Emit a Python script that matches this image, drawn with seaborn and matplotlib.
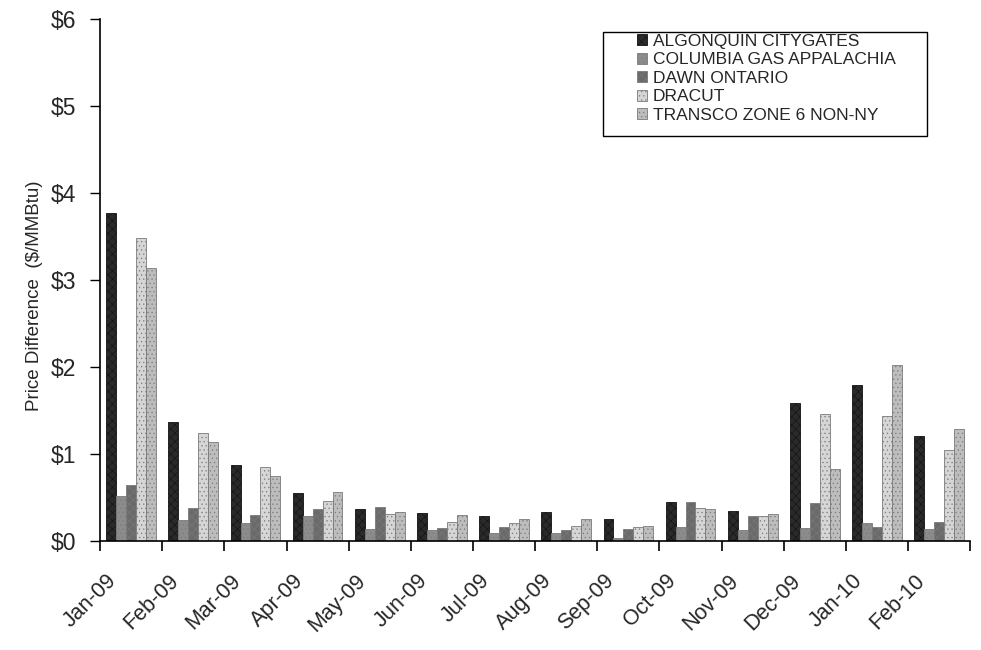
import pandas as pd
import seaborn as sns
import matplotlib.pyplot as plt
from matplotlib.patches import Rectangle
from matplotlib.transforms import ScaledTranslation
from matplotlib.ticker import FuncFormatter, FixedLocator

# data ($/MMBtu)
MONTHS = ["Jan-09", "Feb-09", "Mar-09", "Apr-09", "May-09", "Jun-09", "Jul-09",
          "Aug-09", "Sep-09", "Oct-09", "Nov-09", "Dec-09", "Jan-10", "Feb-10"]

ALGONQUIN = [3.77, 1.36, 0.87, 0.55, 0.37, 0.32, 0.29, 0.33, 0.25, 0.45, 0.34, 1.58, 1.79, 1.21]
COLUMBIA = [0.51, 0.24, 0.20, 0.28, 0.14, 0.12, 0.09, 0.09, 0.03, 0.16, 0.12, 0.15, 0.21, 0.14]
DAWN = [0.64, 0.38, 0.30, 0.36, 0.39, 0.15, 0.16, 0.12, 0.14, 0.45, 0.29, 0.43, 0.16, 0.22]
DRACUT = [3.48, 1.24, 0.85, 0.46, 0.31, 0.22, 0.21, 0.17, 0.16, 0.38, 0.29, 1.46, 1.44, 1.04]
TRANSCO = [3.14, 1.13, 0.74, 0.56, 0.33, 0.30, 0.25, 0.25, 0.17, 0.37, 0.31, 0.83, 2.02, 1.28]

SERIES = ["ALGONQUIN CITYGATES", "COLUMBIA GAS APPALACHIA", "DAWN ONTARIO",
          "DRACUT", "TRANSCO ZONE 6 NON-NY"]
COLORS = ["#2a2a2a", "#8c8c8c", "#6a6a6a", "#d6d6d6", "#bdbdbd"]
HATCHES = ["xxxx", "....", "xxxx", "....", "...."]


def build_frame():
    rows = []
    for name, vals in zip(SERIES, [ALGONQUIN, COLUMBIA, DAWN, DRACUT, TRANSCO]):
        for m, v in zip(MONTHS, vals):
            rows.append({"Month": m, "Hub": name, "Value": v})
    return pd.DataFrame(rows)


def plot_chart():
    sns.set_style("white")
    plt.rcParams["font.family"] = ["Liberation Sans", "DejaVu Sans"]
    plt.rcParams["hatch.linewidth"] = 0.4

    df = build_frame()
    fig = plt.figure(figsize=(9.81, 6.5), dpi=100)
    ax = fig.add_axes([0.102, 0.168, 0.887, 0.803])

    sns.barplot(data=df, x="Month", y="Value", hue="Hub", order=MONTHS,
                hue_order=SERIES, palette=COLORS, width=0.8, ax=ax,
                errorbar=None, saturation=1, legend=False)

    # texture the bars a bit like the scanned original
    for cont, hatch, col in zip(ax.containers, HATCHES, COLORS):
        for bar in cont:
            bar.set_hatch(hatch)
            bar.set_edgecolor("#111111" if col == "#2a2a2a" else "#7a7a7a")
            bar.set_linewidth(0.6)

    ax.set_ylim(0, 6)
    ax.set_xlim(-0.5, len(MONTHS) - 0.5)
    ax.set_yticks(range(0, 7))
    ax.yaxis.set_major_formatter(FuncFormatter(lambda v, _: f"${v:.0f}"))
    ax.set_ylabel("Price Difference  ($/MMBtu)", fontsize=13.5)
    ax.yaxis.set_label_coords(-0.0655, 0.47)
    ax.set_xlabel("")

    # tick marks on the group boundaries, labels in the middle
    ax.xaxis.set_minor_locator(FixedLocator([i - 0.5 for i in range(len(MONTHS) + 1)]))
    ax.tick_params(axis="x", which="major", bottom=False, length=0, pad=4)
    ax.tick_params(axis="x", which="minor", bottom=True, length=7, width=1.2,
                   direction="out", color="black")
    ax.tick_params(axis="y", left=True, length=7, width=1, direction="out",
                   color="black", labelsize=16.5, pad=10)
    shift = ScaledTranslation(-25 / 100, -24 / 100, fig.dpi_scale_trans)
    for lab in ax.get_xticklabels():
        lab.set_rotation(45)
        lab.set_ha("right")
        lab.set_rotation_mode("anchor")
        lab.set_fontsize(15.5)
        lab.set_transform(lab.get_transform() + shift)

    sns.despine(ax=ax)
    for sp in ["left", "bottom"]:
        ax.spines[sp].set_color("black")
        ax.spines[sp].set_linewidth(1.2)

    # legend with a frame drawn separately (wide left margin as in the original)
    handles = [cont[0] for cont in ax.containers]
    fig.legend(handles, SERIES, loc="upper left",
               bbox_to_anchor=(637 / 981, 1 - 34 / 650), bbox_transform=fig.transFigure,
               fontsize=12.5, frameon=False, handlelength=0.6, handleheight=0.6,
               handletextpad=0.3, labelspacing=0.2, borderpad=0, borderaxespad=0)
    fig.patches.append(Rectangle((603 / 981, 1 - 136 / 650), 324 / 981, 104 / 650,
                                 transform=fig.transFigure, fill=False,
                                 edgecolor="black", linewidth=1.0))

    plt.savefig("out.png", dpi=100)
    plt.close()


if __name__ == "__main__":
    plot_chart()
